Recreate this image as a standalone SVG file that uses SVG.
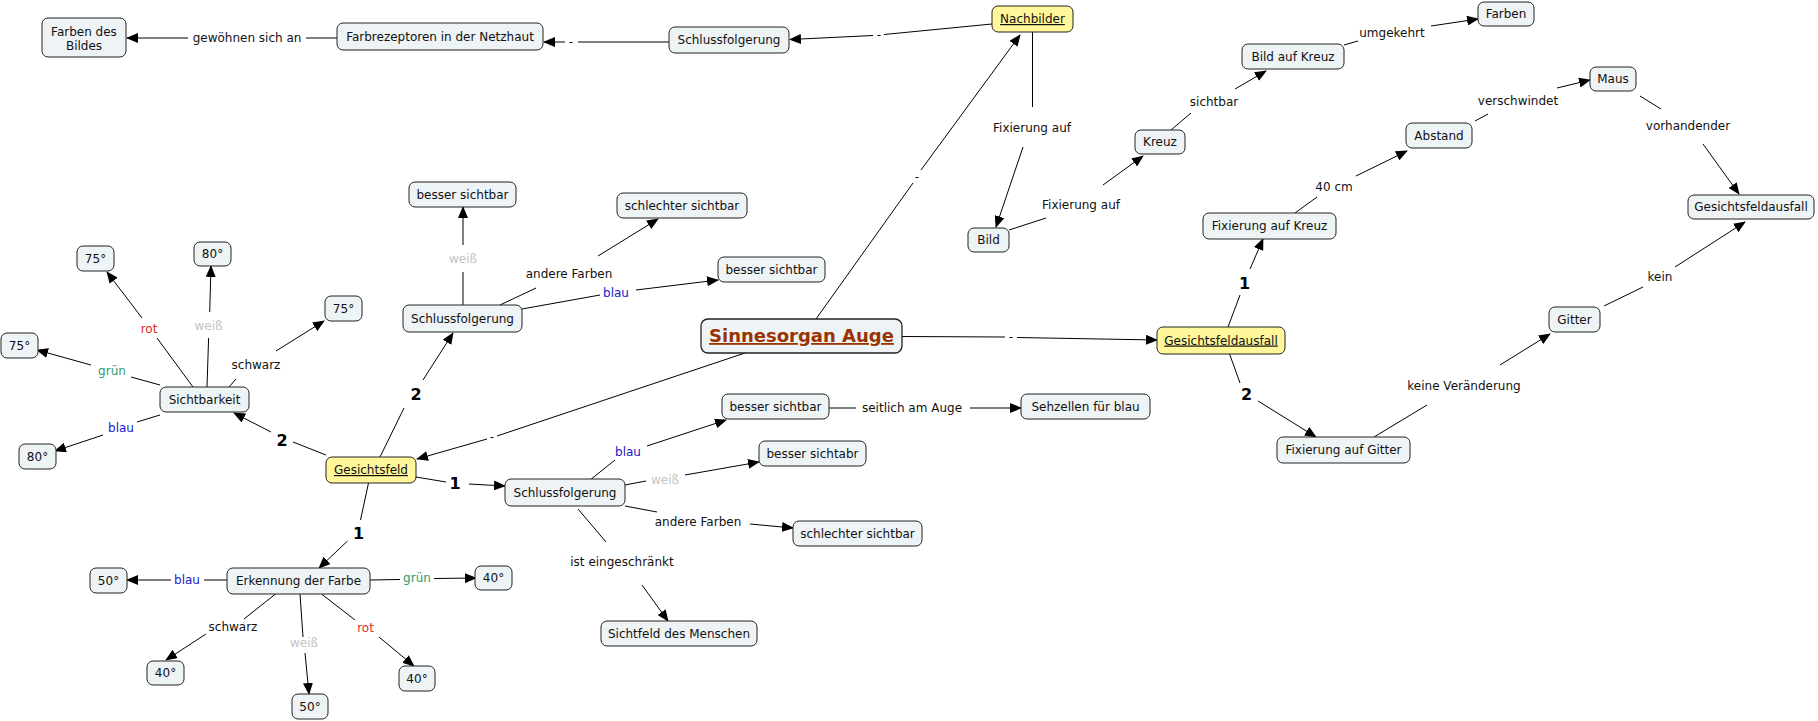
<svg xmlns="http://www.w3.org/2000/svg" width="1818" height="721" viewBox="0 0 1818 721">
<style>
.n rect{fill:#eef3f6;stroke:#222;stroke-width:1}
.n.hl rect{fill:#fff799}
text{font-family:"DejaVu Sans",Verdana,sans-serif;font-size:12px;text-anchor:middle;fill:#111}
.u{text-decoration:underline}
.big{font-size:18px;font-weight:bold;fill:#993300;text-decoration:underline}
.num{font-size:16px;font-weight:bold;fill:#000}
.rot{fill:#e62a2a}.gruen{fill:#339966}.blau{fill:#2020c8}.weiss{fill:#c4c4c4}
#links line{stroke:#000;stroke-width:1}
#links line.a{marker-end:url(#ah)}
</style>
<defs>
<marker id="ah" markerWidth="12" markerHeight="10" refX="11" refY="5" orient="auto" markerUnits="userSpaceOnUse"><path d="M0,0 L12,5 L0,10 z" fill="#000"/></marker>
</defs>
<rect width="1818" height="721" fill="#fff"/>
<g id="links">
<line x1="337" y1="38" x2="306" y2="38"/><line class="a" x1="188" y1="38" x2="127" y2="38"/><text x="247" y="42">gewöhnen sich an</text>
<line x1="669" y1="42" x2="578" y2="42"/><line class="a" x1="565" y1="42" x2="544" y2="42"/><text x="571" y="46">-</text>
<line x1="992" y1="24" x2="884" y2="34.5"/><line class="a" x1="873" y1="35.5" x2="790" y2="39.5"/><text x="879" y="39">-</text>
<line x1="1032.5" y1="32" x2="1032.5" y2="107"/><line class="a" x1="1023" y1="147" x2="996" y2="227"/><text x="1032" y="132">Fixierung auf</text>
<line x1="1009" y1="230" x2="1046" y2="218"/><line class="a" x1="1103" y1="185" x2="1143" y2="156"/><text x="1081" y="209">Fixierung auf</text>
<line x1="1171" y1="130" x2="1191" y2="113"/><line class="a" x1="1235" y1="89" x2="1266" y2="71"/><text x="1214" y="106">sichtbar</text>
<line x1="1344" y1="45" x2="1358" y2="41"/><line class="a" x1="1431" y1="26" x2="1478" y2="19"/><text x="1392" y="37">umgekehrt</text>
<line x1="816" y1="319" x2="913" y2="183"/><line class="a" x1="921" y1="170" x2="1020" y2="35"/><text x="917" y="181">-</text>
<line x1="902" y1="336.5" x2="1005" y2="337"/><line class="a" x1="1017" y1="337.5" x2="1157" y2="340"/><text x="1011" y="341">-</text>
<line x1="1228" y1="327" x2="1240" y2="295"/><line class="a" x1="1250" y1="269" x2="1263" y2="239"/><text class="num" x="1244.5" y="289">1</text>
<line x1="1229.6" y1="354" x2="1240" y2="383"/><line class="a" x1="1258" y1="401" x2="1316" y2="437"/><text class="num" x="1246.5" y="400">2</text>
<line x1="1295" y1="213" x2="1317" y2="197"/><line class="a" x1="1356" y1="176" x2="1407" y2="151"/><text x="1334" y="191">40 cm</text>
<line x1="1475" y1="121" x2="1488" y2="114"/><line class="a" x1="1557" y1="88" x2="1590" y2="80"/><text x="1518" y="105">verschwindet</text>
<line x1="1640" y1="96" x2="1661" y2="109"/><line class="a" x1="1703" y1="144" x2="1739" y2="194"/><text x="1688" y="130">vorhandender</text>
<line x1="1374" y1="437" x2="1427" y2="405"/><line class="a" x1="1500" y1="365" x2="1550" y2="334"/><text x="1464" y="390">keine Veränderung</text>
<line x1="1604" y1="306" x2="1643" y2="287"/><line class="a" x1="1675" y1="267" x2="1745" y2="222"/><text x="1660" y="281">kein</text>
<line x1="745" y1="353" x2="497" y2="436"/><line class="a" x1="487" y1="439" x2="417" y2="459"/><text x="492" y="441">-</text>
<line x1="326" y1="455" x2="293" y2="442"/><line class="a" x1="271" y1="432" x2="234" y2="413"/><text class="num" x="282" y="446">2</text>
<line x1="380" y1="457" x2="404" y2="408"/><line class="a" x1="423" y1="380" x2="453" y2="333"/><text class="num" x="416" y="400">2</text>
<line x1="416" y1="477" x2="446" y2="482"/><line class="a" x1="469" y1="484" x2="505" y2="486"/><text class="num" x="455" y="489">1</text>
<line x1="368.5" y1="483" x2="360.5" y2="520"/><line class="a" x1="347.5" y1="541" x2="319" y2="568"/><text class="num" x="358.6" y="539">1</text>
<line x1="463" y1="305" x2="463" y2="272"/><line class="a" x1="463" y1="245" x2="463" y2="207"/><text class="weiss" x="463" y="263">weiß</text>
<line x1="500" y1="305" x2="536" y2="288"/><line class="a" x1="598" y1="256" x2="658" y2="219"/><text x="569" y="278">andere Farben</text>
<line x1="522" y1="309" x2="600" y2="295"/><line class="a" x1="636" y1="290" x2="718" y2="280"/><text class="blau" x="616" y="297">blau</text>
<line x1="590" y1="480" x2="615" y2="460"/><line class="a" x1="647" y1="446" x2="726" y2="420"/><text class="blau" x="628" y="456">blau</text>
<line x1="625" y1="485" x2="646" y2="481"/><line class="a" x1="685" y1="475" x2="759" y2="462"/><text class="weiss" x="665" y="484">weiß</text>
<line x1="625" y1="506" x2="657" y2="512"/><line class="a" x1="750" y1="524" x2="793" y2="528"/><text x="698" y="526">andere Farben</text>
<line x1="578" y1="509" x2="606" y2="542"/><line class="a" x1="642" y1="585" x2="668" y2="621"/><text x="622" y="566">ist eingeschränkt</text>
<line x1="829" y1="408" x2="856" y2="408"/><line class="a" x1="970" y1="408" x2="1021" y2="408"/><text x="912" y="412">seitlich am Auge</text>
<line x1="193" y1="387" x2="157" y2="338"/><line class="a" x1="142" y1="318" x2="107" y2="272"/><text class="rot" x="149" y="333">rot</text>
<line x1="207" y1="387" x2="208.6" y2="338"/><line class="a" x1="209.7" y1="312" x2="211" y2="266"/><text class="weiss" x="208.6" y="330">weiß</text>
<line x1="229" y1="387" x2="236" y2="379"/><line class="a" x1="276" y1="351" x2="324" y2="321"/><text x="256" y="369">schwarz</text>
<line x1="160" y1="385" x2="131" y2="377"/><line class="a" x1="91" y1="365" x2="37" y2="350"/><text class="gruen" x="112" y="375">grün</text>
<line x1="160" y1="415" x2="137" y2="422"/><line class="a" x1="103" y1="435" x2="55" y2="451"/><text class="blau" x="121" y="432">blau</text>
<line x1="227" y1="580" x2="204" y2="580"/><line class="a" x1="171" y1="580" x2="127" y2="580"/><text class="blau" x="187" y="584">blau</text>
<line x1="370" y1="580" x2="400" y2="579.5"/><line class="a" x1="434" y1="578.5" x2="476" y2="578"/><text class="gruen" x="417" y="582">grün</text>
<line x1="275.5" y1="594" x2="244" y2="619"/><line class="a" x1="206" y1="634" x2="166" y2="660"/><text x="233" y="631">schwarz</text>
<line x1="300" y1="594" x2="303" y2="637"/><line class="a" x1="305" y1="653" x2="309" y2="694"/><text class="weiss" x="304" y="647">weiß</text>
<line x1="321.5" y1="594" x2="355" y2="620"/><line class="a" x1="379" y1="637" x2="414" y2="666"/><text class="rot" x="365.5" y="632">rot</text>
</g>
<g id="n1" class="n"><rect x="42" y="18" width="84" height="39" rx="6"/><text x="84" y="36">Farben des</text><text x="84" y="50">Bildes</text></g>
<g id="n2" class="n"><rect x="337" y="23" width="206" height="27" rx="6"/><text x="440" y="40.5">Farbrezeptoren in der Netzhaut</text></g>
<g id="n3" class="n"><rect x="669" y="27" width="120" height="26" rx="6"/><text x="729" y="44">Schlussfolgerung</text></g>
<g id="n4" class="n hl"><rect x="992" y="6" width="81" height="26" rx="6"/><text class="u" x="1032.5" y="23">Nachbilder</text></g>
<g id="n5" class="n"><rect x="968" y="228" width="41" height="24" rx="6"/><text x="988.5" y="244">Bild</text></g>
<g id="n6" class="n"><rect x="1135" y="130" width="50" height="24" rx="6"/><text x="1160" y="146">Kreuz</text></g>
<g id="n7" class="n"><rect x="1242" y="44" width="102" height="25" rx="6"/><text x="1293" y="60.5">Bild auf Kreuz</text></g>
<g id="n8" class="n"><rect x="1478" y="2" width="56" height="24" rx="6"/><text x="1506" y="18">Farben</text></g>
<g id="n9" class="n"><rect x="1406" y="123" width="66" height="25" rx="6"/><text x="1439" y="139.5">Abstand</text></g>
<g id="n10" class="n"><rect x="1590" y="67" width="46" height="24" rx="6"/><text x="1613" y="83">Maus</text></g>
<g id="n11" class="n"><rect x="1688" y="195" width="126" height="24" rx="6"/><text x="1751" y="211">Gesichtsfeldausfall</text></g>
<g id="n12" class="n"><rect x="1203" y="213" width="133" height="26" rx="6"/><text x="1269.5" y="230">Fixierung auf Kreuz</text></g>
<g id="n13" class="n hl"><rect x="1157" y="327" width="128" height="27" rx="6"/><text class="u" x="1221" y="344.5">Gesichtsfeldausfall</text></g>
<g id="n14" class="n"><rect x="1277" y="437" width="133" height="26" rx="6"/><text x="1343.5" y="454">Fixierung auf Gitter</text></g>
<g id="n15" class="n"><rect x="1549" y="307" width="51" height="25" rx="6"/><text x="1574.5" y="323.5">Gitter</text></g>
<g id="n16" class="n"><rect x="701" y="319" width="201" height="34" rx="7" style="stroke-width:1.3"/><text class="big" x="801.5" y="342">Sinnesorgan Auge</text></g>
<g id="n17" class="n"><rect x="409" y="182" width="107" height="25" rx="6"/><text x="462.5" y="198.5">besser sichtbar</text></g>
<g id="n18" class="n"><rect x="617" y="193" width="130" height="25" rx="6"/><text x="682" y="209.5">schlechter sichtbar</text></g>
<g id="n19" class="n"><rect x="403" y="305" width="119" height="27" rx="6"/><text x="462.5" y="322.5">Schlussfolgerung</text></g>
<g id="n20" class="n"><rect x="718" y="257" width="107" height="25" rx="6"/><text x="771.5" y="273.5">besser sichtbar</text></g>
<g id="n21" class="n"><rect x="722" y="394" width="107" height="25" rx="6"/><text x="775.5" y="410.5">besser sichtbar</text></g>
<g id="n22" class="n"><rect x="1021" y="394" width="129" height="25" rx="6"/><text x="1085.5" y="410.5">Sehzellen für blau</text></g>
<g id="n23" class="n"><rect x="759" y="441" width="107" height="25" rx="6"/><text x="812.5" y="457.5">besser sichtabr</text></g>
<g id="n24" class="n"><rect x="505" y="479" width="120" height="27" rx="6"/><text x="565" y="496.5">Schlussfolgerung</text></g>
<g id="n25" class="n"><rect x="793" y="521" width="129" height="25" rx="6"/><text x="857.5" y="537.5">schlechter sichtbar</text></g>
<g id="n26" class="n"><rect x="601" y="621" width="156" height="25" rx="6"/><text x="679" y="637.5">Sichtfeld des Menschen</text></g>
<g id="n27" class="n hl"><rect x="326" y="457" width="90" height="26" rx="6"/><text class="u" x="371" y="474">Gesichtsfeld</text></g>
<g id="n28" class="n"><rect x="160" y="387" width="89" height="25" rx="6"/><text x="204.5" y="403.5">Sichtbarkeit</text></g>
<g id="n29" class="n"><rect x="77" y="246" width="37" height="25" rx="6"/><text x="95.5" y="262.5">75°</text></g>
<g id="n30" class="n"><rect x="194" y="242" width="37" height="24" rx="6"/><text x="212.5" y="258">80°</text></g>
<g id="n31" class="n"><rect x="325" y="296" width="37" height="25" rx="6"/><text x="343.5" y="312.5">75°</text></g>
<g id="n32" class="n"><rect x="1" y="333" width="37" height="25" rx="6"/><text x="19.5" y="349.5">75°</text></g>
<g id="n33" class="n"><rect x="19" y="444" width="37" height="25" rx="6"/><text x="37.5" y="460.5">80°</text></g>
<g id="n34" class="n"><rect x="227" y="568" width="143" height="26" rx="6"/><text x="298.5" y="585">Erkennung der Farbe</text></g>
<g id="n35" class="n"><rect x="90" y="568" width="37" height="25" rx="6"/><text x="108.5" y="584.5">50°</text></g>
<g id="n36" class="n"><rect x="475" y="566" width="37" height="24" rx="6"/><text x="493.5" y="582">40°</text></g>
<g id="n37" class="n"><rect x="147" y="661" width="37" height="24" rx="6"/><text x="165.5" y="677">40°</text></g>
<g id="n38" class="n"><rect x="292" y="694" width="36" height="25" rx="6"/><text x="310" y="710.5">50°</text></g>
<g id="n39" class="n"><rect x="399" y="666" width="36" height="25" rx="6"/><text x="417" y="682.5">40°</text></g>
</svg>
